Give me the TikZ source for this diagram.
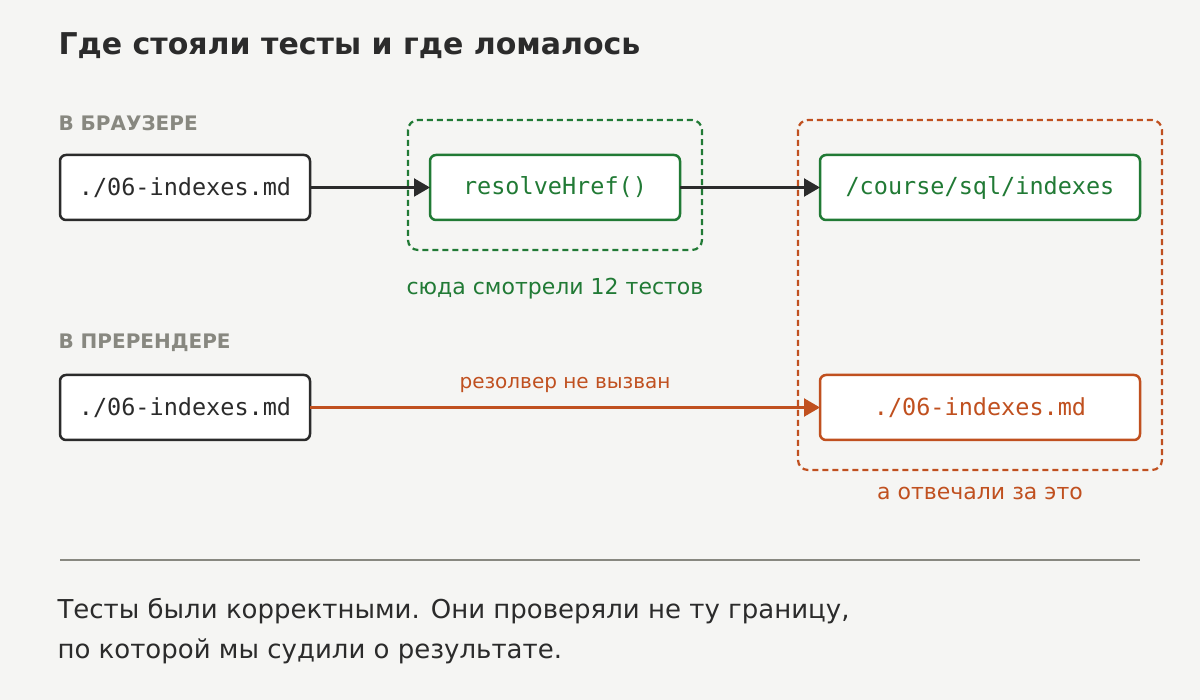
\documentclass[tikz,border=0pt]{standalone}
\usepackage{fontspec}
\setmainfont{DejaVu Sans}
\setmonofont{DejaVu Sans Mono}
\usetikzlibrary{arrows.meta}
\definecolor{bg}{HTML}{F5F5F3}
\definecolor{gr}{HTML}{217A35}
\definecolor{orng}{HTML}{C0501F}
\definecolor{dk}{HTML}{2B2B2B}
\definecolor{gy}{HTML}{888880}
\begin{document}
\begin{tikzpicture}[x=1pt,y=-1pt,
 box/.style={draw=#1,line width=2.5pt,rounded corners=6pt,fill=white},
 dash/.style={draw=#1,line width=2.2pt,dash pattern=on 6pt off 4pt,rounded corners=10pt},
 arr/.style={draw=#1,line width=2.2pt,-{Triangle[length=16pt,width=18pt]}},
 mono/.style={font=\ttfamily\fontsize{23.5}{27}\selectfont,text=#1},
 lab/.style={font=\bfseries\fontsize{20}{24}\selectfont,text=gy,anchor=west}]
\fill[bg] (0,0) rectangle (1200,700);
\node[anchor=west,font=\bfseries\fontsize{30}{36}\selectfont,text=dk] (title) at (55,46) {Где стояли тесты и где ломалось};
\node[lab] (l1) at (55,123) {В БРАУЗЕРЕ};
\node[lab] (l2) at (55,343) {В ПРЕРЕНДЕРЕ};
\draw[dash=gr] (408,120) rectangle (702,250);
\draw[dash=orng] (798,120) rectangle (1162,470);
\draw[box=dk] (60,155) rectangle (310,220);
\node[mono=dk] (a) at (185,187.5) {./06-indexes.md};
\draw[box=gr] (430,155) rectangle (680,220);
\node[mono=gr] (b) at (555,187.5) {resolveHref()};
\draw[box=gr] (820,155) rectangle (1140,220);
\node[mono=gr] (c) at (980,187.5) {/course/sql/indexes};
\draw[box=dk] (60,375) rectangle (310,440);
\node[mono=dk] (d) at (185,407.5) {./06-indexes.md};
\draw[box=orng] (820,375) rectangle (1140,440);
\node[mono=orng] (e) at (980,407.5) {./06-indexes.md};
\coordinate (a1) at (310,187.5); \coordinate (b0) at (430,187.5);
\coordinate (b1) at (680,187.5); \coordinate (c0) at (820,187.5);
\coordinate (d1) at (310,407.5); \coordinate (e0) at (820,407.5);
\draw[arr=dk] (a1) -- (b0);
\draw[arr=dk] (b1) -- (c0);
\draw[arr=orng] (d1) -- (e0);
\node[font=\fontsize{20}{24}\selectfont,text=orng] (r) at (565,385) {резолвер не вызван};
\node[font=\fontsize{22}{26}\selectfont,text=gr] (s) at (555,289) {сюда смотрели 12 тестов};
\node[font=\fontsize{22}{26}\selectfont,text=orng] (t) at (980,493) {а отвечали за это};
\draw[gy,line width=1.5pt] (60,560) -- (1140,560);
\node[anchor=west,font=\fontsize{26}{30}\selectfont,text=dk] (p1) at (54,611) {Тесты были корректными. Они проверяли не ту границу,};
\node[anchor=west,font=\fontsize{26}{30}\selectfont,text=dk] (p2) at (54,651) {по которой мы судили о результате.};
\end{tikzpicture}
\end{document}
